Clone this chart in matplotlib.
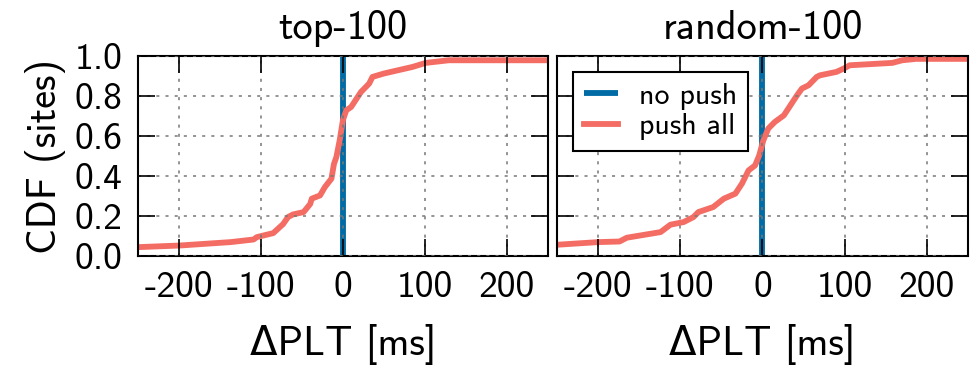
import numpy as np
import matplotlib
matplotlib.use("Agg")
import matplotlib.pyplot as plt

plt.rcParams['font.family'] = ['cmss10', 'DejaVu Sans']
plt.rcParams['axes.unicode_minus'] = False

# estimated CDF points (delta PLT in ms, fraction of sites)
top_x = [-260, -249, -199, -137, -109, -105, -85, -73, -67, -61, -48, -40, -38, -28, -22,
         -14, -11, -8, -4, 0, 4, 10, 22, 28, 32, 36, 50, 85, 101, 129, 260]
top_y = [0.045, 0.045, 0.053, 0.07, 0.083, 0.095, 0.115, 0.16, 0.195, 0.208, 0.22, 0.26,
         0.287, 0.303, 0.345, 0.387, 0.46, 0.495, 0.578, 0.68, 0.728, 0.745, 0.82, 0.845,
         0.862, 0.895, 0.912, 0.945, 0.965, 0.978, 0.978]

rnd_x = [-260, -249, -200, -174, -165, -124, -112, -96, -84, -78, -60, -47, -33, -25, -17,
         -9, -4, 1, 7, 15, 26, 34, 42, 48, 56, 66, 70, 90, 99, 106, 158, 170, 187, 260]
rnd_y = [0.057, 0.057, 0.07, 0.073, 0.092, 0.12, 0.157, 0.17, 0.195, 0.22, 0.245, 0.287,
         0.312, 0.362, 0.428, 0.453, 0.503, 0.578, 0.637, 0.67, 0.703, 0.753, 0.803, 0.837,
         0.853, 0.895, 0.903, 0.92, 0.937, 0.953, 0.965, 0.978, 0.985, 0.985]

nopush_x = [0, 0]
nopush_y = [0, 1]

titles = ['top-100', 'random-100']
xticks = [-200, -100, 0, 100, 200]
yticks = [0.0, 0.2, 0.4, 0.6, 0.8, 1.0]

blue = '#006BA4'
red = '#F46D64'

fig = plt.figure(figsize=(9.75, 3.75), dpi=100)
ax1 = fig.add_axes([0.1415, 0.317, 0.4205, 0.534])
ax2 = fig.add_axes([0.5713, 0.317, 0.4215, 0.534])

for ax, title, cx, cy in [(ax1, titles[0], top_x, top_y), (ax2, titles[1], rnd_x, rnd_y)]:
    ax.plot(nopush_x, nopush_y, color=blue, lw=4.2, label='no push', solid_capstyle='butt')
    ax.plot(cx, cy, color=red, lw=4.2, label='push all')
    ax.set_xlim(-250, 250)
    ax.set_ylim(0, 1)
    ax.set_xticks(xticks)
    ax.set_xticklabels([str(t) for t in xticks])
    ax.set_yticks(yticks)
    ax.set_axisbelow(False)
    ax.grid(True, color='#777777', ls=(0, (2, 4)), lw=1.1)
    ax.tick_params(direction='in', length=12, width=1.2, top=True, right=True,
                   labelsize=27, pad=11)
    for s in ax.spines.values():
        s.set_linewidth(1.5)
    ax.set_title(title, fontsize=29, pad=12)
    ax.set_xlabel('ΔPLT [ms]', fontsize=29, labelpad=14)

ax1.set_ylabel('CDF (sites)', fontsize=29, labelpad=6)
ax2.set_yticklabels([])

leg = ax2.legend(loc='upper left', fontsize=21.5, frameon=True, fancybox=False,
                 framealpha=1, edgecolor='black', handlelength=1.15,
                 borderaxespad=0.55, handletextpad=0.7, labelspacing=0.12,
                 borderpad=0.35)
leg.get_frame().set_linewidth(1.5)

fig.savefig('out.png', dpi=100)
